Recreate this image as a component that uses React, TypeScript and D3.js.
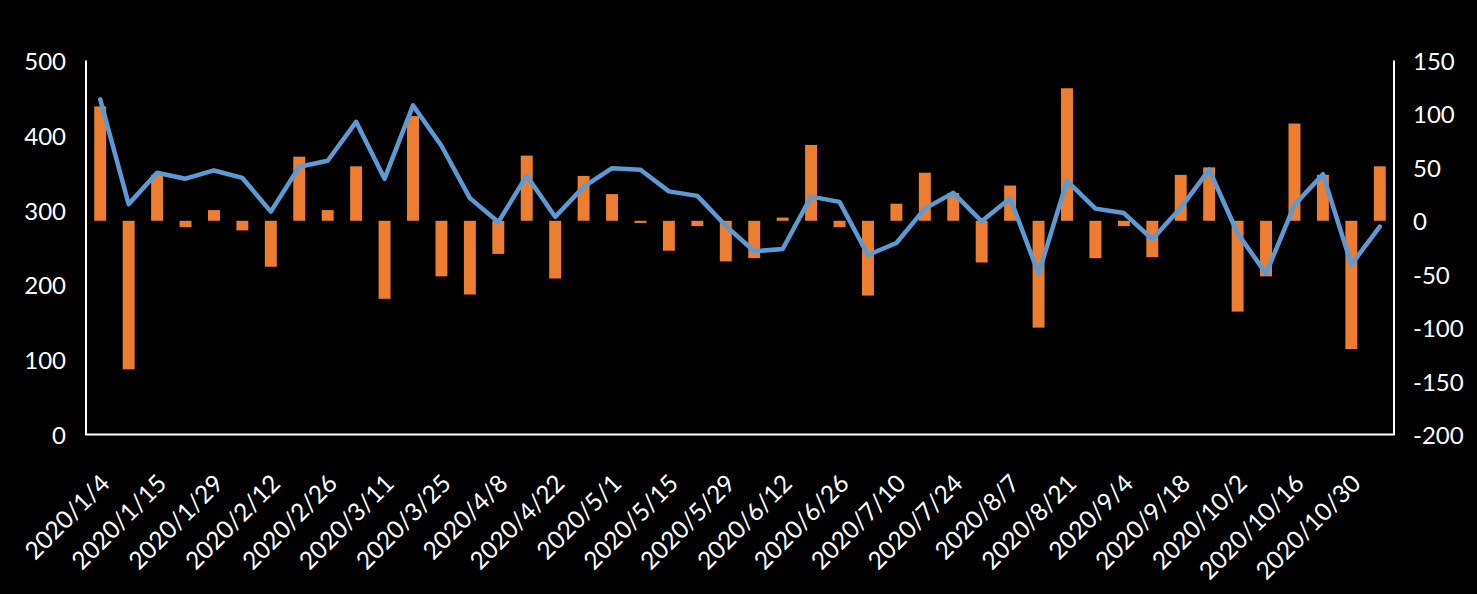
import React from "react";
import * as d3 from "d3";

const dates = [
  "2020/1/4", "2020/1/8", "2020/1/15", "2020/1/22", "2020/1/29", "2020/2/5",
  "2020/2/12", "2020/2/19", "2020/2/26", "2020/3/4", "2020/3/11", "2020/3/18",
  "2020/3/25", "2020/4/1", "2020/4/8", "2020/4/15", "2020/4/22", "2020/4/26",
  "2020/5/1", "2020/5/8", "2020/5/15", "2020/5/22", "2020/5/29", "2020/6/5",
  "2020/6/12", "2020/6/19", "2020/6/26", "2020/7/3", "2020/7/10", "2020/7/17",
  "2020/7/24", "2020/7/31", "2020/8/7", "2020/8/14", "2020/8/21", "2020/8/28",
  "2020/9/4", "2020/9/11", "2020/9/18", "2020/9/25", "2020/10/2", "2020/10/9",
  "2020/10/16", "2020/10/23", "2020/10/30", "2020/11/6",
];

// line series (left axis)
const lineValues = [
  448, 308, 350, 342, 353, 343, 298, 358, 366, 418, 342, 440,
  386, 316, 284, 346, 291, 331, 356, 354, 325, 319, 279, 245,
  248, 318, 311, 240, 256, 302, 323, 285, 316, 215, 339, 302,
  296, 261, 303, 354, 269, 215, 307, 348, 227, 278,
];

// bar series (right axis)
const barValues = [
  107, -139, 43, -6, 10, -9, -43, 60, 10, 51, -73, 98,
  -52, -69, -31, 61, -54, 42, 25, -2, -28, -5, -38, -35,
  3, 71, -6, -70, 16, 45, 26, -39, 33, -100, 124, -35,
  -5, -34, 43, 50, -85, -52, 91, 43, -120, 51,
];

const leftTicks = [0, 100, 200, 300, 400, 500];
const rightTicks = [-200, -150, -100, -50, 0, 50, 100, 150];

const W = 1477;
const H = 594;
const plotLeft = 86;
const plotRight = 1394;
const plotTop = 60.5;
const plotBottom = 434.5;
const FONT = "Lato, 'Open Sans', sans-serif";

export default function App() {
  const idx = dates.map((_, i) => i);
  const x = d3
    .scaleBand<number>()
    .domain(idx)
    .range([plotLeft, plotRight])
    .paddingInner(0.58)
    .paddingOuter(0.29);
  const yL = d3.scaleLinear().domain([0, 500]).range([plotBottom, plotTop]);
  const yR = d3.scaleLinear().domain([-200, 150]).range([plotBottom, plotTop]);
  const cx = (i: number) => (x(i) as number) + x.bandwidth() / 2;

  const linePath = d3
    .line<number>()
    .x((_, i) => cx(i))
    .y((d) => yL(d))(lineValues) as string;

  return (
    <svg
      width={W}
      height={H}
      style={{ position: "absolute", left: 0, top: 0, display: "block" }}
    >
      <rect x={0} y={0} width={W} height={H} fill="#000" />
      {barValues.map((v, i) => (
        <rect
          key={i}
          x={x(i)}
          width={x.bandwidth()}
          y={Math.min(yR(v), yR(0))}
          height={Math.abs(yR(v) - yR(0))}
          fill="#ED7D31"
        />
      ))}
      <path
        d={linePath}
        fill="none"
        stroke="#5B9BD5"
        strokeWidth={4.5}
        strokeLinejoin="round"
        strokeLinecap="round"
      />
      <line x1={plotLeft} x2={plotLeft} y1={plotTop} y2={plotBottom} stroke="#fff" strokeWidth={2} />
      <line x1={plotRight} x2={plotRight} y1={plotTop} y2={plotBottom} stroke="#fff" strokeWidth={2} />
      <line x1={plotLeft - 1} x2={plotRight + 1} y1={plotBottom} y2={plotBottom} stroke="#fff" strokeWidth={2} />
      {leftTicks.map((t) => (
        <text
          key={"l" + t}
          x={66}
          y={yL(t)}
          textAnchor="end"
          dominantBaseline="central"
          fill="#fff"
          fontSize={24}
          fontFamily={FONT}
        >
          {t}
        </text>
      ))}
      {rightTicks.map((t) => (
        <text
          key={"r" + t}
          x={1413}
          y={yR(t)}
          textAnchor="start"
          dominantBaseline="central"
          fill="#fff"
          fontSize={24}
          fontFamily={FONT}
        >
          {t}
        </text>
      ))}
      {dates.map((d, i) =>
        i % 2 === 0 ? (
          <text
            key={"d" + i}
            transform={`translate(${cx(i) + 11},${485}) rotate(-45)`}
            textAnchor="end"
            fill="#fff"
            fontSize={24.5}
            fontFamily={FONT}
          >
            {d}
          </text>
        ) : null
      )}
    </svg>
  );
}
